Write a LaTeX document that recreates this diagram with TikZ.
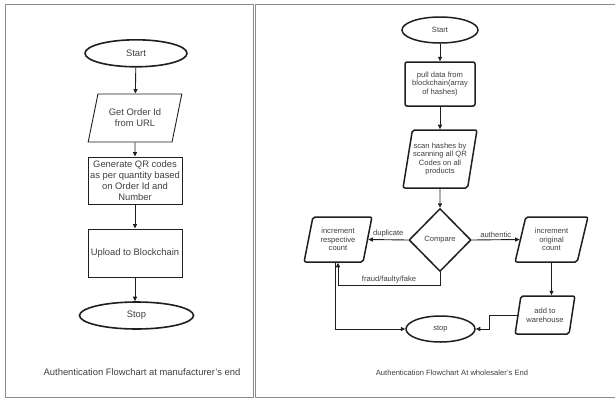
\documentclass[tikz,border=0pt]{standalone}
\usepackage{fontspec}
\setmainfont{Liberation Sans}
\usetikzlibrary{shapes.geometric,arrows.meta}
\definecolor{frame}{gray}{0.55}
\definecolor{ink}{gray}{0.12}
\definecolor{txt}{gray}{0.25}
\tikzset{
  big/.style={font=\fontsize{9.4}{11}\selectfont, text=txt},
  small/.style={font=\fontsize{7.6}{8.6}\selectfont, text=txt},
  term/.style={ellipse, draw=ink, line width=1.6pt, inner sep=0pt},
  thinbox/.style={rectangle, draw=ink, line width=0.9pt, inner sep=0pt, align=center},
  iobox/.style={trapezium, trapezium stretches=true, draw=ink, inner sep=0pt, align=center},
  thickbox/.style={line width=1.5pt, rounded corners=2pt},
  arr/.style={draw=ink, line width=0.9pt, -{Triangle[length=4.5pt,width=4pt]}},
  lbl/.style={small, inner sep=1pt},
}
\begin{document}
\begin{tikzpicture}[x=1pt,y=-1pt]
\useasboundingbox (0,0) rectangle (615,399);
\fill[white] (0,0) rectangle (615,399);

% panel frames
\draw[frame, line width=1pt] (5,4.3) rectangle (253,397.7);
\draw[frame, line width=1pt] (255,4.3) rectangle (620,397.7);

% manufacturer's side
\node[term, big, minimum width=102pt, minimum height=27pt] (mstart) at (136,53.3) {Start};
\node[iobox, big, line width=0.9pt, trapezium left angle=69, trapezium right angle=111,
      minimum width=94pt, minimum height=48pt] (order) at (135,118) {Get Order Id\\from URL};
\node[thinbox, big, minimum width=94pt, minimum height=47pt] (gen) at (135,180.5)
      {Generate QR codes\\as per quantity based\\on Order Id and\\Number};
\node[thinbox, big, minimum width=94pt, minimum height=48pt] (upl) at (135,253)
      {Upload to Blockchain};
\node[term, big, minimum width=114pt, minimum height=27pt] (mstop) at (136.5,315.5) {Stop};
\node[big] (mcap) at (142,372) {Authentication Flowchart at manufacturer's end};

\draw[arr] (mstart) -- (order);
\draw[arr] (order) -- (gen);
\draw[arr] (gen) -- (upl);
\draw[arr] (upl) -- (upl |- mstop.north);

% wholesaler's side
\node[term, small, line width=1.5pt, minimum width=76pt, minimum height=26pt] (wstart) at (440,30) {Start};
\node[rectangle, draw=ink, thickbox, small, align=center, inner sep=0pt,
      minimum width=70pt, minimum height=44pt] (pull) at (440,84)
      {pull data from\\blockchain(array\\of hashes)};
\node[iobox, thickbox, small, trapezium left angle=74.5, trapezium right angle=105.5,
      minimum width=74pt, minimum height=58pt] (scan) at (440,159)
      {scan hashes by\\scanning all QR\\Codes on all\\products};
\node[diamond, draw=ink, line width=1.5pt, small, inner sep=0pt, aspect=1,
      minimum width=62pt, minimum height=63pt] (cmp) at (440,240) {Compare};
\node[iobox, thickbox, small, trapezium left angle=75, trapezium right angle=105,
      minimum width=68pt, minimum height=45pt] (inc) at (338,239.5)
      {increment\\respective\\count};
\node[iobox, thickbox, small, trapezium left angle=73, trapezium right angle=107,
      minimum width=73pt, minimum height=45pt] (orig) at (551.5,239.5)
      {increment\\original\\count};
\node[iobox, thickbox, small, trapezium left angle=72.5, trapezium right angle=107.5,
      minimum width=60pt, minimum height=38pt] (wh) at (545,315)
      {add to\\warehouse};
\node[term, small, line width=1.5pt, minimum width=69pt, minimum height=26pt] (wstop) at (440.5,329) {stop};
\node[small] (wcap) at (452,373) {Authentication Flowchart At wholesaler's End};

\draw[arr] (wstart) -- (pull);
\draw[arr] (pull) -- (scan);
\draw[arr] (scan) -- (cmp);
\draw[arr] (cmp.west) -- node[lbl, above=1pt] (ldup) {duplicate} (inc.east);
\draw[arr] (cmp.east) -- node[lbl, above=1pt] (lauth) {authentic} (orig.west);
\draw[arr] (cmp.south) -- ++(0,13) coordinate (fk)
      -- node[lbl, above=0.5pt, pos=0.5] (lfake) {fraud/faulty/fake} (fk -| inc.south) -- (inc.south);
\draw[arr] ([xshift=-3pt]inc.south) |- (wstop.west);
\draw[arr] (orig.south) -- (orig.south |- wh.north);
\draw[arr] (wh.west) -- ++(-28,0) coordinate (wk) |- (wstop.east);
\end{tikzpicture}
\end{document}
